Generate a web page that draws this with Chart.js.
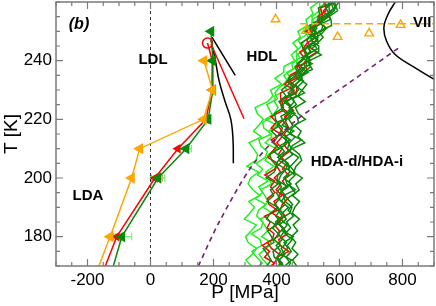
<!DOCTYPE html>
<html><head><meta charset="utf-8">
<script src="https://cdn.jsdelivr.net/npm/chart.js@4"></script>
<style>html,body{margin:0;padding:0;background:#fff}#wrap{width:436px;height:306px}</style>
</head><body><div id="wrap"><canvas id="c" width="436" height="306"></canvas></div>
<script>
// ---- tick labels ----
const xTicks=[-200,0,200,400,600,800];
const yTicks=[180,200,220,240];
// ---- noisy band: sampled temperatures (two sampling grids) and P in MPa ----
const bandT1=[170,172,174,176,178,180,182,184,186,188,190,192,194,196,198,200,202,204,206,208,210,212,214,216,218,220,222,224,226,228,230,232,234,236,238,240,242,244,246,248,250,252,254,256,258,260];
const bandT2=[169,171,173,175,177,179,181,183,185,187,189,191,193,195,197,199,201,203,205,207,209,211,213,215,217,219,221,223,225,227,229,231,233,235,237,239,241,243,245,247,249,251,253,255,257,261];
const lg1=[320,303,323,337,310,302,320,336,298,315,330,312,347,325,310,318,343,306,335,340,327,313,352,327,344,358,339,332,372,389,381,416,395,423,424,458,447,468,452,476,468,498,494,516,508,534];
const lg2=[330,355,337,322,353,348,320,352,357,337,343,366,332,356,344,373,340,356,335,364,371,350,344,384,360,356,389,379,369,403,395,410,437,423,452,449,475,461,480,469,497,492,518,512,536,537];
const lg3=[376,358,345,368,383,353,372,362,349,387,358,373,363,350,384,376,366,392,364,374,399,364,385,376,402,365,393,405,394,395,433,422,443,433,467,463,464,495,481,502,487,512,513,543,536,560];
const r1=[369,394,362,378,355,387,392,370,380,362,404,376,371,395,381,394,363,394,403,373,386,402,383,413,383,400,383,421,421,413,413,454,438,443,476,466,487,474,505,496,513,505,532,532,557,552];
const r2=[387,399,409,384,371,404,409,393,417,386,403,392,417,399,414,393,413,401,422,406,418,401,417,418,403,424,440,416,412,436,456,426,450,473,464,508,493,484,497,526,493,531,548,545,540,589];
const r3=[431,409,402,439,412,407,435,420,402,428,412,418,436,412,431,419,439,419,433,416,440,426,441,424,439,430,426,454,439,429,463,464,443,482,497,486,499,528,499,528,520,558,535,561,549,589];
const dg1=[369,383,372,358,392,384,372,398,369,380,405,370,391,381,405,367,393,401,385,378,409,390,403,384,410,397,394,422,408,430,416,440,437,466,459,482,496,485,478,507,526,505,536,536,533,581];
const dg2=[386,418,393,389,412,393,406,387,412,398,411,394,410,400,416,401,404,430,399,415,392,424,430,408,419,401,445,420,418,447,437,457,432,470,488,468,488,510,496,530,503,528,520,564,568,564];
const dg3=[423,408,426,415,432,413,426,409,431,418,438,415,428,413,446,423,442,438,407,421,447,438,427,455,418,433,449,447,423,465,446,446,469,500,475,504,498,489,533,524,511,530,570,567,557,585];
const dg4=[434,444,430,447,434,450,427,445,432,454,437,451,434,460,444,440,459,435,454,470,443,450,479,442,449,470,465,438,463,451,489,467,486,470,514,502,505,533,534,509,542,558,540,566,594,580];
const dg5=[464,451,468,449,461,447,467,453,473,450,458,473,451,472,461,482,454,462,480,473,450,490,468,478,457,492,469,460,491,467,482,496,469,489,508,504,542,512,531,548,534,575,573,561,584,598];
const dg6=[401,417,402,413,399,418,406,422,397,418,406,427,406,411,437,406,414,430,437,404,425,411,444,417,438,423,414,447,443,418,456,451,473,459,474,513,480,506,502,531,531,510,546,541,583,569];
const dg7=[426,448,413,436,424,453,418,434,412,442,449,428,422,460,433,428,458,443,426,451,435,441,459,434,452,439,459,440,456,443,470,461,482,472,495,495,497,529,517,508,543,547,531,573,588,578];
// ---- marker series ----
const orangeP=[-200,-128,-60,-34,168,197,170];
const orangeT=[160,180,200,210,220,230,240];
const greenP=[-145,-91,24,113,183,198,198,192];
const greenT=[160,180,200,210,220,230,240,250];
const redP=[-180,-107,14,87,176,195,196,181];
const redT=[160,180,200,210,220,230,240,246];
const redCircP=[181], redCircT=[246];
// error bars
const errGT=[180,200,210], errGLo=[-112,0,85], errGHi=[-60,45,130];
const errRT=[180,200], errRLo=[-118,3], errRHi=[-92,38];
// ---- curves ----
const blk1P=[195,269], blk1T=[248,235];
const red2P=[192,297], red2T=[245.7,220.2];
const blk2P=[192,206,218,237,255,262,263], blk2T=[247,240,233,226,220,213,205];
const viiP=[780,754,741,749,775,838,890,930], viiT=[260.5,255.8,251.3,246.8,242.3,237.7,234.3,232];
const purP=[152,218,328,449,638,790], purT=[170,185,205,218.5,233,244.5];
const odP=[475,900], odT=[252.6,252.6];
const otP=[397,494,594,694,794], otT=[254.1,250.2,248.1,249.3,252.2];
const zeroP=[0,0], zeroT=[170,260];

const FONT="'Liberation Sans', Arial, Helvetica, sans-serif";
const ORANGE='#ffa500', RED='#ff0000', DG='#0a8a0a', LG='#22f022', PURPLE='#7a1f6e';

function pts(P,T){return P.map((p,i)=>({x:p,y:T[i]}));}
function line(P,T,color,w,extra){
  return Object.assign({data:pts(P,T),showLine:true,borderColor:color,backgroundColor:color,
    borderWidth:w,pointRadius:0,pointHoverRadius:0,fill:false,tension:0},extra||{});
}
const BW=1.5;
const ds=[
  line(orangeP,orangeT,ORANGE,1.5,{pointStyle:'triangle',rotation:-90,pointRadius:[0,5,5,5,5,5,5],pointBackgroundColor:ORANGE,pointBorderColor:ORANGE}),
  line(greenP,greenT,DG,1.5,{pointStyle:'triangle',rotation:-90,pointRadius:[0,5,5,5,5,5,5,5],pointBackgroundColor:DG,pointBorderColor:DG}),
  line(redCircP,redCircT,RED,1.5,{showLine:false,pointStyle:'circle',pointRadius:5,pointBackgroundColor:'rgba(0,0,0,0)',pointBorderColor:RED,pointBorderWidth:1.5}),
  line(redP,redT,RED,1.5,{pointStyle:'triangle',rotation:-90,pointRadius:[0,4,4,4,4,4,4,0],pointBackgroundColor:RED,pointBorderColor:RED}),
  line(blk1P,blk1T,'#000',1.5),
  line(red2P,red2T,RED,1.5),
  line(blk2P,blk2T,'#000',1.5,{tension:0.4}),
  line(viiP,viiT,'#000',1.5,{tension:0.4}),
  line(otP,otT,ORANGE,1.4,{showLine:false,pointStyle:'triangle',pointRadius:5,pointBackgroundColor:'rgba(0,0,0,0)',pointBorderColor:ORANGE,pointBorderWidth:1.4}),
  line(odP,odT,ORANGE,1.5,{borderDash:[7,4]}),
  line(purP,purT,PURPLE,1.6,{borderDash:[5,4],tension:0.3}),
  line(dg5,bandT1,DG,BW), line(dg7,bandT1,DG,BW), line(dg4,bandT2,DG,BW), line(dg3,bandT1,DG,BW), line(dg6,bandT2,DG,BW), line(dg2,bandT2,DG,BW), line(dg1,bandT1,DG,BW),
  line(r3,bandT2,RED,BW), line(r2,bandT1,RED,BW), line(r1,bandT2,RED,BW),
  line(lg3,bandT1,LG,BW), line(lg2,bandT2,LG,BW), line(lg1,bandT1,LG,BW),
  line(zeroP,zeroT,'#333',1,{borderDash:[3,3]})
];

const deco={id:'deco',
  beforeDatasetsDraw(c){
    const ctx=c.ctx,x=c.scales.x,y=c.scales.y;
    ctx.save();ctx.lineWidth=1.3;
    const bar=(T,lo,hi,col)=>{ctx.strokeStyle=col;
      for(let i=0;i<T.length;i++){const py=y.getPixelForValue(T[i]),a=x.getPixelForValue(lo[i]),b=x.getPixelForValue(hi[i]);
        ctx.beginPath();ctx.moveTo(a,py);ctx.lineTo(b,py);ctx.moveTo(a,py-3.5);ctx.lineTo(a,py+3.5);ctx.moveTo(b,py-3.5);ctx.lineTo(b,py+3.5);ctx.stroke();}};
    bar(errRT,errRLo,errRHi,'#ff8080');
    bar(errGT,errGLo,errGHi,'#66ff66');
    ctx.restore();
  },
  afterDatasetsDraw(c){
    const ctx=c.ctx;ctx.save();ctx.fillStyle='#000';ctx.textBaseline='middle';
    ctx.textAlign='center';
    ctx.font='bold italic 16px '+FONT;ctx.fillText('(b)',79,25);
    ctx.font='bold 15px '+FONT;
    ctx.fillText('LDL',153,60);
    ctx.fillText('HDL',262,57);
    ctx.fillText('HDA-d/HDA-i',357,162);
    ctx.fillText('LDA',88,196);
    ctx.textAlign='left';ctx.fillText('VII',413,23);
    ctx.restore();
  },
  afterDraw(c){
    const ctx=c.ctx,a=c.chartArea,x=c.scales.x,y=c.scales.y;
    ctx.save();ctx.strokeStyle='#7a7a7a';ctx.lineWidth=1.5;
    ctx.strokeRect(a.left,a.top,a.right-a.left,a.bottom-a.top);
    ctx.lineWidth=1.2;ctx.beginPath();
    for(let v=x.min;v<=x.max;v+=50){const px=x.getPixelForValue(v);const L=xTicks.includes(v)?7:4;
      ctx.moveTo(px,a.bottom);ctx.lineTo(px,a.bottom-L);ctx.moveTo(px,a.top);ctx.lineTo(px,a.top+L);}
    for(let v=y.min;v<=y.max;v+=5){const py=y.getPixelForValue(v);const L=yTicks.includes(v)?7:4;
      ctx.moveTo(a.left,py);ctx.lineTo(a.left+L,py);ctx.moveTo(a.right,py);ctx.lineTo(a.right-L,py);}
    ctx.stroke();ctx.restore();
  }
};
function noPad(s){s.paddingTop=0;s.paddingBottom=0;s.paddingLeft=0;s.paddingRight=0;}
new Chart(document.getElementById('c'),{
  type:'scatter',
  data:{datasets:ds},
  options:{responsive:false,animation:false,devicePixelRatio:1,events:[],
    layout:{autoPadding:false,padding:{top:2,right:2,left:0,bottom:0}},
    plugins:{legend:{display:false},tooltip:{enabled:false}},
    scales:{
      x:{type:'linear',min:-300,max:900,
        afterFit(s){s.height=40;noPad(s);},
        afterBuildTicks(s){s.ticks=xTicks.map(v=>({value:v}));},
        grid:{display:false,drawTicks:false},border:{display:false},
        ticks:{font:{family:FONT,size:17},color:'#000',padding:4,maxRotation:0,autoSkip:false,callback:v=>String(v)},
        title:{display:true,text:'P [MPa]',font:{family:FONT,size:19},color:'#000',padding:{top:0,bottom:2}}},
      y:{type:'linear',min:170,max:260,
        afterFit(s){s.width=56;noPad(s);},
        afterBuildTicks(s){s.ticks=yTicks.map(v=>({value:v}));},
        grid:{display:false,drawTicks:false},border:{display:false},
        ticks:{font:{family:FONT,size:17},color:'#000',padding:4,autoSkip:false,callback:v=>String(v)},
        title:{display:true,text:'T [K]',font:{family:FONT,size:19},color:'#000',padding:{top:0,bottom:0}}}
    }
  },
  plugins:[deco]
});
</script></body></html>
